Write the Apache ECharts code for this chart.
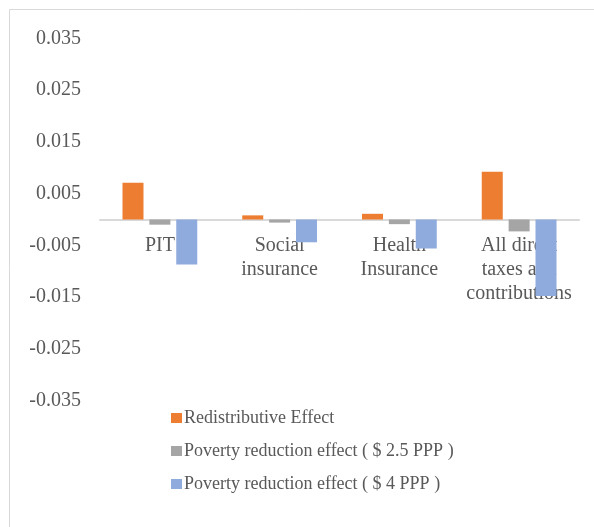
<!DOCTYPE html>
<html>
<head>
<meta charset="utf-8">
<script src="https://cdn.jsdelivr.net/npm/echarts@6/dist/echarts.min.js"></script>
<style>
html,body{margin:0;padding:0;background:#fff;}
#chart{width:594px;height:527px;}
</style>
</head>
<body>
<div id="chart"></div>
<script>
var categories = ["PIT", "Social\ninsurance", "Health\nInsurance", "All direct\ntaxes and\ncontributions"];
var seriesNames = ["Redistributive Effect", "Poverty reduction effect ( $ 2.5 PPP )", "Poverty reduction effect ( $ 4 PPP )"];
var redistributive = [0.0071, 0.0008, 0.0011, 0.0092];
var poverty25 = [-0.0010, -0.0006, -0.0009, -0.0023];
var poverty4 = [-0.0087, -0.0044, -0.0056, -0.0148];
var yMin = -0.035, yMax = 0.035, yStep = 0.005;

var colors = ["#ED7D31", "#A5A5A5", "#8FAADC"];
var FONT = "'Liberation Serif', 'Times New Roman', serif";

var gridTop = 38.3, gridBottomPx = 400.7;
var zeroOffset = -((gridBottomPx - gridTop) * (0 - yMin) / (yMax - yMin));

var chart = echarts.init(document.getElementById('chart'), null, {renderer: 'canvas'});
function mk(name, data, c) {
  return {
    name: name, type: 'bar', data: data, barWidth: 21, barGap: '28%',
    itemStyle: {color: c}
  };
}
chart.setOption({
  animation: false,
  color: colors,
  graphic: [{
    type: 'rect', z: 100,
    shape: {x: 9.5, y: 9.5, width: 700, height: 700},
    style: {fill: 'none', stroke: '#d9d9d9', lineWidth: 1}
  }],
  grid: {left: 100, right: 15, top: gridTop, bottom: 527 - gridBottomPx, containLabel: false},
  xAxis: {
    type: 'category', data: categories, position: 'bottom', offset: zeroOffset,
    axisLine: {onZero: false, lineStyle: {color: '#d9d9d9', width: 2}},
    axisTick: {show: false},
    axisLabel: {color: '#595959', fontFamily: FONT, fontSize: 20, margin: 14, lineHeight: 24, interval: 0}
  },
  yAxis: {
    type: 'value', min: yMin, max: yMax, interval: yStep,
    splitLine: {show: false}, axisLine: {show: false}, axisTick: {show: false},
    axisLabel: {
      color: '#595959', fontFamily: FONT, fontSize: 20, margin: 19,
      formatter: function (v) {
        var k = Math.round(v / yStep);
        if (Math.abs(k) % 2 !== 1) return '';
        return (k * yStep).toFixed(3);
      }
    }
  },
  legend: {
    orient: 'vertical', left: 166, top: 404,
    itemWidth: 11, itemHeight: 10, itemGap: 15,
    icon: 'rect',
    textStyle: {color: '#595959', fontFamily: FONT, fontSize: 18, padding: [0, 0, 0, -3]},
    data: seriesNames
  },
  series: [
    mk(seriesNames[0], redistributive, colors[0]),
    mk(seriesNames[1], poverty25, colors[1]),
    mk(seriesNames[2], poverty4, colors[2])
  ]
});
</script>
</body>
</html>
